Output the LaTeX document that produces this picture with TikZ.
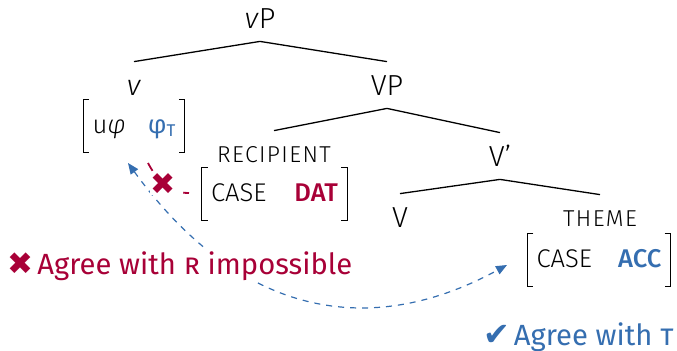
\documentclass[tikz,border=0pt]{standalone}
\usepackage{fontspec}
\setmainfont{Fira Sans}
\newfontfamily\firalight{Fira Sans Light}
\newfontfamily\firamed{Fira Sans Medium}
\newfontfamily\symb{DejaVu Sans}
\usetikzlibrary{arrows.meta,calc}
\definecolor{nored}{RGB}{168,0,55}
\definecolor{yesblue}{RGB}{53,110,176}
% square brackets drawn round a feature node
\newcommand{\featbrackets}[1]{%
  \draw[brk] ($(#1.north west)+(6,0)$) -| (#1.south west) -- ++(6,0);
  \draw[brk] ($(#1.north east)+(-6,0)$) -| (#1.south east) -- ++(-6,0);}
\begin{document}
\begin{tikzpicture}[x=0.5pt,y=-0.5pt,
  cat/.style={anchor=base, inner xsep=0pt, inner ysep=6.5pt, text height=10pt,
    text depth=0pt, font=\fontsize{14.5}{17}\firalight},
  role/.style={anchor=base, inner xsep=0pt, inner ysep=8pt, text height=7.5pt,
    text depth=0pt, font=\fontsize{11.5}{13}\firalight\addfontfeature{LetterSpace=6}},
  feat/.style={minimum height=26pt, inner xsep=4.5pt, text height=8.5pt,
    text depth=1.5pt, font=\fontsize{12.8}{15}\firalight},
  brk/.style={line width=0.65pt},
  branch/.style={line width=0.65pt},
  agreeline/.style={yesblue, line width=0.6pt, dash pattern=on 3pt off 3pt,
    {Triangle[length=5.5pt,width=4.5pt]}-{Triangle[length=5.5pt,width=4.5pt]}},
  blockline/.style={nored, line width=0.9pt, dash pattern=on 4.5pt off 3.5pt},
  verdict/.style={anchor=base west, inner sep=1pt, fill=white,
    font=\fontsize{14.6}{18}\selectfont}]
\useasboundingbox (0,0) rectangle (677,350);

% tree labels
\node[cat] (vP) at (260,28) {\textit{v}P};
\node[cat] (v)  at (134,95) {\textit{v}};
\node[cat] (VP) at (387,95) {VP};
\node[role] (rec) at (274,162) {RECIPIENT};
\node[cat] (Vbar) at (500,166) {V’};
\node[cat] (V) at (400,227) {V};
\node[role] (theme) at (600,226) {THEME};

% branches
\draw[branch] (vP.south) -- (v.north);
\draw[branch] (vP.south) -- (VP.north);
\draw[branch] (VP.south) -- (rec.north);
\draw[branch] (VP.south) -- (Vbar.north);
\draw[branch] (Vbar.south) -- (V.north);
\draw[branch] (Vbar.south) -- (theme.north);

% feature bundles
\node[feat] (vfeat) at (134,126)
  {u\textit{φ}\hspace{11pt}{\color{yesblue}\fontspec{Fira Sans}φ\raisebox{-1.5pt}{\fontsize{8.5}{9}\selectfont T}}};
\node[feat] (recfeat) at (274.5,194) {CASE\hspace{14pt}{\color{nored}\firamed DAT}};
\node[feat] (themefeat) at (599,260) {CASE\hspace{13pt}{\color{yesblue}\firamed ACC}};
\featbrackets{vfeat}
\featbrackets{recfeat}
\featbrackets{themefeat}

% agreement paths
\coordinate (probeT) at (128,163);
\coordinate (goalT) at (507,265);
\draw[agreeline] (probeT) .. controls (234,309) and (362,344) .. (goalT);

\coordinate (probeR) at (148,163);
\coordinate (goalR) at (189,193);
\draw[blockline] (probeR) to[out=-62,in=180]
  node[pos=0.47, fill=white, inner sep=0.3pt, text=nored, font=\fontsize{15}{16}\symb] (cross) {✖}
  (goalR);

% verdicts
\node[verdict, text=nored] (failR) at (5,274)
  {{\symb\fontsize{15.5}{18}\selectfont ✖}\hspace{2pt}Agree with \textsc{r} impossible};
\node[verdict, text=yesblue, anchor=base east] (okT) at (676,345)
  {{\symb\fontsize{16}{18}\selectfont ✔}\hspace{2pt}Agree with \textsc{t}};
\end{tikzpicture}
\end{document}
